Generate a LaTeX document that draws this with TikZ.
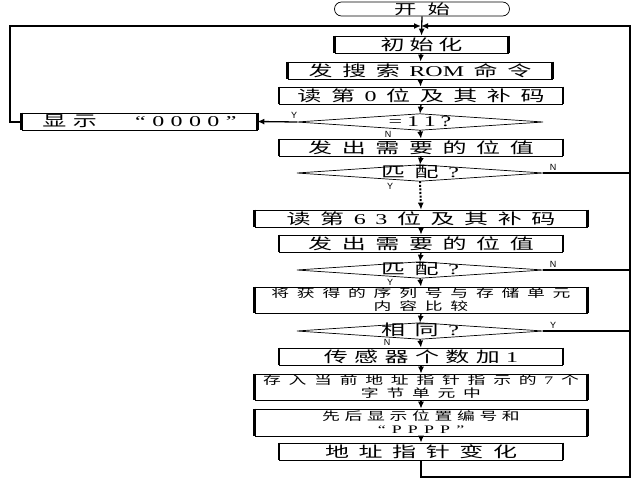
\documentclass[tikz,border=0pt]{standalone}
\usepackage{fontspec}
\usepackage{graphicx}
\usetikzlibrary{arrows.meta}
\newfontfamily\cjkf{Noto Sans CJK SC}
\newfontfamily\latf{Liberation Serif}
\newfontfamily\lblfont{Liberation Sans}
\newdimen\chgap
\makeatletter
\def\spc#1{\spc@a#1\spc@end}
\def\spc@a#1{\ifx#1\spc@end\else#1\expandafter\spc@b\fi}
\def\spc@b#1{\ifx#1\spc@end\else\hskip\chgap\relax#1\expandafter\spc@b\fi}
\makeatother
\newcommand\g{\hskip\chgap\relax}
\newcommand\BT[1]{\chgap=6pt\relax\scalebox{1.6}[1]{\cjkf #1}}
\newcommand\ST[1]{\chgap=5pt\relax\scalebox{1.55}[1]{\cjkf #1}}
\tikzset{
  box/.style={draw, line width=0.7pt, inner sep=0pt, minimum height=17pt,
    font=\fontsize{15}{17}\selectfont},
  wbox/.style={box, minimum width=332pt},
  nbox/.style={box, minimum width=283pt},
  tbox/.style={wbox, minimum height=26pt, align=center,
    font=\fontsize{11.5}{13}\selectfont},
  dia/.style={rectangle, inner sep=0pt, minimum width=246pt, minimum height=16pt,
    text height=11pt, text depth=2pt, font=\fontsize{15}{17}\selectfont},
  diaedge/.style={line width=0.7pt},
  flow/.style={line width=1.3pt, -{Latex[length=7pt,width=6pt]}},
  branch/.style={line width=1.3pt},
  loopline/.style={line width=2pt, -{Latex[length=7pt,width=6pt]}},
  lbl/.style={font=\fontsize{9}{10}\selectfont\lblfont, inner sep=0pt},
  side/.style={line width=2.4pt}
}
\begin{document}
\begin{tikzpicture}[x=1pt, y=-1pt]
\useasboundingbox (0,0) rectangle (640,480);
% nodes
\node[draw, line width=0.7pt, rounded corners=7pt, inner sep=0pt, minimum width=175pt,
      minimum height=14pt, font=\fontsize{14}{15}\selectfont] (start) at (422,9) {\BT{\chgap=7pt\spc{开始}}};
\node[box, minimum width=173pt] (init) at (421.5,44.5) {\BT{\chgap=3pt\spc{初始化}}};
\node[box, minimum width=264pt] (search) at (420,70.5) {\BT{\spc{发搜索}\g{\latf ROM}\g\spc{命令}}};
\node[nbox] (read0) at (421,95.5) {\BT{\spc{读第}\g{\latf 0}\g\spc{位及其补码}}};
\node[dia] (d11) at (420,122) {\BT{\latf\chgap=3pt\spc{=11?}}};
\node[box, minimum width=235pt] (show0) at (139.5,121.5) {\BT{\chgap=4pt\spc{显示}\hskip 24pt{\latf “\hskip4pt\spc{0000}\hskip4pt”}}};
\node[nbox] (send1) at (421,147.5) {\BT{\spc{发出需要的位值}}};
\node[dia] (m1) at (420,173) {\BT{\spc{匹配}\g{\latf ?}}};
\node[wbox] (read63) at (421,218.5) {\BT{\spc{读第}\g{\latf\spc{63}}\g\spc{位及其补码}}};
\node[nbox] (send2) at (421,243.5) {\BT{\spc{发出需要的位值}}};
\node[dia] (m2) at (420,270) {\BT{\spc{匹配}\g{\latf ?}}};
\node[tbox] (cmp) at (421,300) {\ST{\spc{将获得的序列号与存储单元}}\\\ST{\spc{内容比较}}};
\node[dia] (same) at (420,331) {\BT{\spc{相同}\g{\latf ?}}};
\node[nbox] (cnt) at (421,356.5) {\BT{\chgap=4pt\spc{传感器个数加}\g{\latf 1}}};
\node[tbox] (store) at (421,387) {\ST{\spc{存入当前地址指针指示的}\g{\latf 7}\g 个}\\\ST{\spc{字节单元中}}};
\node[tbox, minimum height=27pt] (disp) at (421,422.5) {\ST{\chgap=3pt\spc{先后显示位置编号和}}\\\ST{\latf\chgap=4pt\spc{“PPPP”}}};
\node[nbox] (addr) at (421,451.5) {\BT{\spc{地址指针变化}}};
% thick box sides
\foreach \n in {init,search,read0,show0,send1,read63,send2,cmp,cnt,store,disp,addr}
  \draw[side] (\n.north west) -- (\n.south west) (\n.north east) -- (\n.south east);
% diamonds
\foreach \n in {d11,m1,m2,same}
  \draw[diaedge] (\n.west) -- (\n.north) -- (\n.east) -- (\n.south) -- cycle;
% coordinates
\coordinate (j) at (421,26);
\coordinate (rc) at (630,26);
% connectors
\draw[flow] (start.south) -- (init.north);
\draw[flow] (init) -- (search);
\draw[flow] (search) -- (read0);
\draw[flow] (read0.south) -- (d11.north);
\draw[flow] (d11.south) -- (send1.north);
\draw[flow] (send1.south) -- (m1.north);
\draw[flow, dash pattern=on 2pt off 1.6pt, line width=2pt] (m1.south) -- (read63.north);
\draw[flow] (read63) -- (send2);
\draw[flow] (send2.south) -- (m2.north);
\draw[flow] (m2.south) -- (cmp.north);
\draw[flow] (cmp.south) -- (same.north);
\draw[flow] (same.south) -- (cnt.north);
\draw[flow] (cnt) -- (store);
\draw[flow] (store) -- (disp);
\draw[flow] (disp) -- (addr);
\draw[flow] (d11.west) -- (show0.east);
\draw[loopline] (show0.west) -- ++(-12,0) |- (j);
\draw[loopline] (addr.south) -- ++(0,16.5) -| (rc) -- (j);
\draw[branch] (m1.east) -- (m1.east -| rc);
\draw[branch] (m2.east) -- (m2.east -| rc);
\draw[branch] (same.east) -- (same.east -| rc);
% labels
\node[lbl] (ly1) at (294,115) {Y};
\node[lbl] (ln1) at (388,134) {N};
\node[lbl] (ln2) at (553,167) {N};
\node[lbl] (ly2) at (390,186) {Y};
\node[lbl] (ln3) at (553,264) {N};
\node[lbl] (ly3) at (390,282) {Y};
\node[lbl] (ly4) at (553,325) {Y};
\node[lbl] (ln4) at (387,342) {N};
\end{tikzpicture}
\end{document}
